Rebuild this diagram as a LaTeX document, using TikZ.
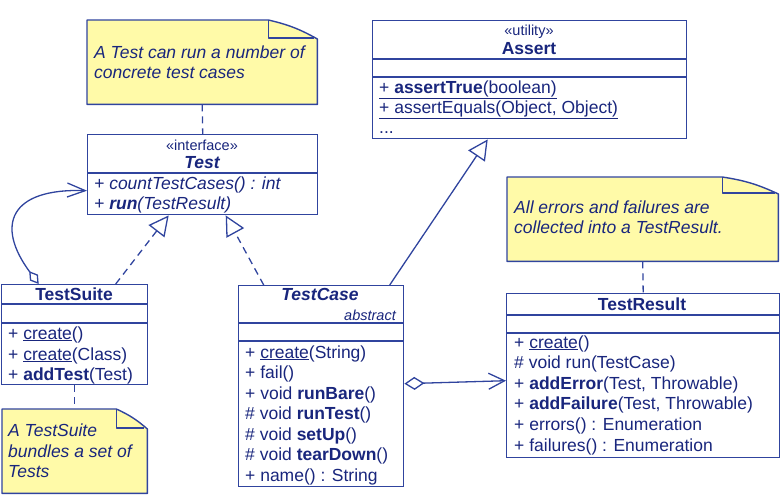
\documentclass[tikz,border=0pt]{standalone}
\usepackage{fontspec}
\setmainfont{Liberation Sans}
\usetikzlibrary{arrows.meta}
\definecolor{ink}{RGB}{25,38,125}
\definecolor{edge}{RGB}{48,68,158}
\definecolor{notey}{RGB}{255,250,168}
\newcommand\dognote[3]{%
  \draw[edge, line width=1.4pt, fill=notey, line join=round]
    (#1.south west) -- (#1.north west) -- ([xshift=-#2]#1.north east)
    to[bend left=8] ([yshift=-#3]#1.north east) -- (#1.south east) -- cycle;
  \draw[edge, line width=1.4pt, line join=round]
    ([xshift=-#2]#1.north east) -- ([xshift=-#2,yshift=-#3+1pt]#1.north east)
    -- ([xshift=-3pt,yshift=-#3+1pt]#1.north east);}
\begin{document}
\begin{tikzpicture}[x=1pt,y=-1pt,
  box/.style={draw=edge, line width=1.4pt, fill=white, inner sep=0pt, anchor=north west},
  notebox/.style={inner sep=0pt, anchor=north west},
  txt/.style={inner sep=0pt, anchor=base west, text=ink, font=\fontsize{17.5}{20.5}\selectfont},
  ctxt/.style={txt, anchor=base},
  stereo/.style={inner sep=0pt, anchor=base, text=ink, font=\fontsize{14.5}{17}\selectfont},
  divider/.style={draw=edge, line width=1.4pt},
  conn/.style={draw=edge, line width=1.3pt},
  dashline/.style={conn, dash pattern=on 7pt off 5pt},
  realize/.style={dashline, -{Triangle[open, length=20pt, width=20pt]}},
  inherit/.style={conn, -{Triangle[open, length=20pt, width=20pt]}},
]
\useasboundingbox (0,0) rectangle (784,496);

% ---------- notes ----------
\node[notebox, minimum width=230pt, minimum height=84pt] (note1) at (87,20) {};
\dognote{note1}{49pt}{19pt}
\node[txt, font=\fontsize{17.5}{20.5}\selectfont\itshape] (n1a) at (94,58) {A Test can run a number of};
\node[txt, font=\fontsize{17.5}{20.5}\selectfont\itshape] (n1b) at (94,78) {concrete test cases};

\node[notebox, minimum width=271pt, minimum height=84pt] (note2) at (507,177) {};
\dognote{note2}{56pt}{17pt}
\node[txt, font=\fontsize{17.5}{20.5}\selectfont\itshape] (n2a) at (514,213) {All errors and failures are};
\node[txt, font=\fontsize{17.5}{20.5}\selectfont\itshape] (n2b) at (514,233) {collected into a TestResult.};

\node[notebox, minimum width=145pt, minimum height=84pt] (note3) at (2,409) {};
\dognote{note3}{31pt}{20pt}
\node[txt, font=\fontsize{17.5}{20.5}\selectfont\itshape] (n3a) at (8,436) {A TestSuite};
\node[txt, font=\fontsize{17.5}{20.5}\selectfont\itshape] (n3b) at (8,457) {bundles a set of};
\node[txt, font=\fontsize{17.5}{20.5}\selectfont\itshape] (n3c) at (8,477) {Tests};

% ---------- Test ----------
\node[box, minimum width=230pt, minimum height=80pt] (test) at (87,134) {};
\draw[divider] (87,173) -- (317,173);
\node[stereo] (tst) at (202,150) {«interface»};
\node[ctxt, font=\fontsize{17.5}{20.5}\selectfont\bfseries\itshape] (tname) at (202,168) {Test};
\node[txt, font=\fontsize{17.5}{20.5}\selectfont\itshape] (tm1) at (94,189) {+ countTestCases() : int};
\node[txt, font=\fontsize{17.5}{20.5}\selectfont\itshape] (tm2) at (94,209) {+ \textbf{run}(TestResult)};

% ---------- Assert ----------
\node[box, minimum width=314pt, minimum height=118pt] (assert) at (372,20) {};
\draw[divider] (372,59) -- (686,59);
\draw[divider] (372,77) -- (686,77);
\node[stereo] (ast) at (529,35) {«utility»};
\node[ctxt, font=\fontsize{17.5}{20.5}\selectfont\bfseries] (aname) at (529,54) {Assert};
\node[txt] (am1) at (379,93) {\underline{+ \textbf{assertTrue}(boolean)}};
\node[txt] (am2) at (379,113) {\underline{+ assertEquals(Object, Object)}};
\node[txt] (am3) at (379,133) {...};

% ---------- TestSuite ----------
\node[box, minimum width=146pt, minimum height=100pt] (ts) at (1,284) {};
\draw[divider] (1,304) -- (147,304);
\draw[divider] (1,323) -- (147,323);
\node[ctxt, font=\fontsize{17.5}{20.5}\selectfont\bfseries] (tsname) at (74,300) {TestSuite};
\node[txt] (tsm1) at (8,339) {+ \underline{create}()};
\node[txt] (tsm2) at (8,360) {+ \underline{create}(Class)};
\node[txt] (tsm3) at (8,380) {+ \textbf{addTest}(Test)};

% ---------- TestCase ----------
\node[box, minimum width=165pt, minimum height=201pt] (tc) at (238,285) {};
\draw[divider] (238,323) -- (403,323);
\draw[divider] (238,341) -- (403,341);
\node[ctxt, font=\fontsize{17.5}{20.5}\selectfont\bfseries\itshape] (tcname) at (320,300) {TestCase};
\node[stereo, anchor=base east, font=\fontsize{14.5}{17}\selectfont\itshape] (tcabs) at (396,320) {abstract};
\node[txt] (tcm1) at (245,358) {+ \underline{create}(String)};
\node[txt] (tcm2) at (245,378.5) {+ fail()};
\node[txt] (tcm3) at (245,399) {+ void \textbf{runBare}()};
\node[txt] (tcm4) at (245,419.5) {\# void \textbf{runTest}()};
\node[txt] (tcm5) at (245,440) {\# void \textbf{setUp}()};
\node[txt] (tcm6) at (245,460.5) {\# void \textbf{tearDown}()};
\node[txt] (tcm7) at (245,481) {+ name() : String};

% ---------- TestResult ----------
\node[box, minimum width=273pt, minimum height=164pt] (tr) at (506,293) {};
\draw[divider] (506,315) -- (779,315);
\draw[divider] (506,333) -- (779,333);
\node[ctxt, font=\fontsize{17.5}{20.5}\selectfont\bfseries] (trname) at (642,310) {TestResult};
\node[txt] (trm1) at (514,348) {+ \underline{create}()};
\node[txt] (trm2) at (514,368.6) {\# void run(TestCase)};
\node[txt] (trm3) at (514,389.2) {+ \textbf{addError}(Test, Throwable)};
\node[txt] (trm4) at (514,409.8) {+ \textbf{addFailure}(Test, Throwable)};
\node[txt] (trm5) at (514,430.4) {+ errors() : Enumeration};
\node[txt] (trm6) at (514,451) {+ failures() : Enumeration};

% ---------- connectors ----------
\draw[dashline] (note1.south) -- (test.north);
\draw[dashline] (note2.south) -- (tr.north);
\draw[dashline] (ts.south) -- (note3.north);
\draw[realize] ([xshift=41pt]ts.north) -- ([xshift=-34pt]test.south);
\draw[realize] ([xshift=-57.5pt]tc.north) -- ([xshift=23pt]test.south);
\draw[inherit] ([xshift=68.5pt]tc.north) -- ([xshift=-42pt]assert.south);
\draw[conn, {Diamond[open, length=16pt, width=10pt]}-{Straight Barb[length=18pt, width=14pt]}]
  ([xshift=-36pt]ts.north) .. controls (-5,225) and (10,188) .. ([yshift=-16pt]test.west);
\draw[conn, {Diamond[open, length=20pt, width=13pt]}-{Straight Barb[length=16pt, width=16pt]}]
  ([yshift=2.5pt]tc.east) -- ([yshift=-5pt]tr.west);
\end{tikzpicture}
\end{document}
